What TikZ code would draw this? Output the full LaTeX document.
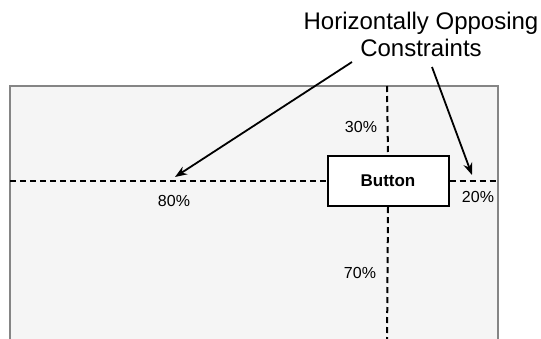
\documentclass[tikz,border=0pt]{standalone}
\usepackage{fontspec}
\setmainfont{Liberation Sans}
\usetikzlibrary{arrows.meta}

\begin{document}
\begin{tikzpicture}[x=1pt, y=-1pt,
  guide/.style={black, line width=2pt, dash pattern=on 6pt off 4pt},
  pct/.style={font=\fontsize{16}{18}\selectfont, inner sep=0pt},
  pointer/.style={black, line width=1.8pt, -{Stealth[length=12pt,width=9pt]}}]
  \useasboundingbox (0,0) rectangle (541,338);
  \clip (0,0) rectangle (541,338);
  \draw[fill=black!4, draw=black!48, line width=2.4pt] (10,86) rectangle (498,360);
  \node[draw=black, line width=2pt, fill=white, minimum width=121pt, minimum height=50pt, inner sep=0pt,
    font=\bfseries\fontsize{17}{20}\selectfont] (button) at (388,181) {Button};
  \coordinate (hleft) at (10,181);
  \coordinate (hright) at (499,181);
  \coordinate (vtop) at (387,86);
  \coordinate (vbottom) at (387,345);
  \draw[guide] (hleft) -- (button.west);
  \draw[guide] (button.east) -- (hright);
  \draw[guide] (vtop) -- (button.north);
  \draw[guide] (button.south) -- (vbottom);
  \node[pct] (p30) at (361,127) {30\%};
  \node[pct] (p70) at (360,273) {70\%};
  \node[pct] (p80) at (174,201) {80\%};
  \node[pct] (p20) at (478,197) {20\%};
  \node[anchor=north, align=center, inner sep=0pt, font=\fontsize{24}{27.4}\selectfont] (title) at (421,12)
    {Horizontally Opposing\\Constraints};
  \coordinate (tailleft) at (352,62);
  \coordinate (tailright) at (432,67);
  \coordinate (tipleft) at (175,177);
  \coordinate (tipright) at (472,175);
  \draw[pointer] (tailleft) -- (tipleft);
  \draw[pointer] (tailright) -- (tipright);
\end{tikzpicture}
\end{document}
